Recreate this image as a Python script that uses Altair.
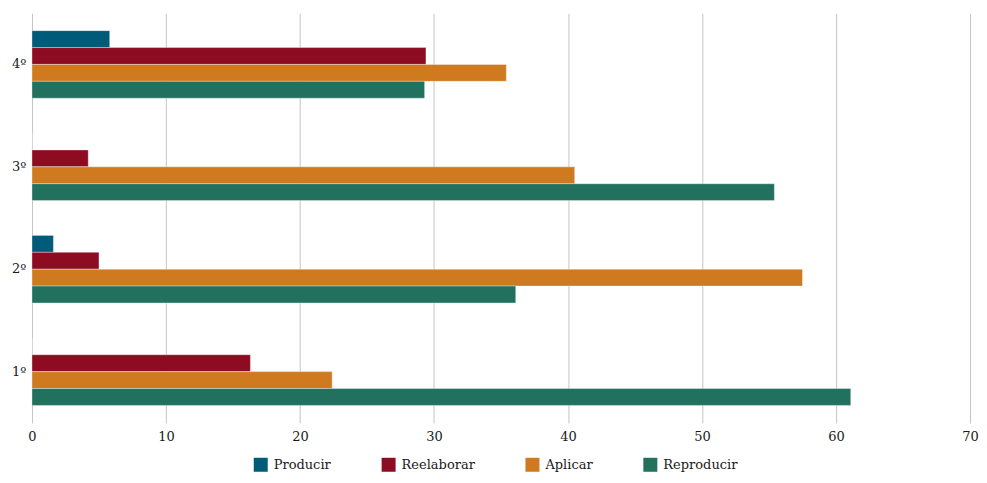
import altair as alt
import pandas as pd

grades = ["1º", "2º", "3º", "4º"]
series = ["Producir", "Reelaborar", "Aplicar", "Reproducir"]
colors = ["#005b78", "#8e0c22", "#d07a20", "#22705e"]

producir = [0, 1.6, 0, 5.8]
reelaborar = [16.3, 5.0, 4.2, 29.4]
aplicar = [22.4, 57.5, 40.5, 35.4]
reproducir = [61.1, 36.1, 55.4, 29.3]

rows = []
for name, vals in zip(series, [producir, reelaborar, aplicar, reproducir]):
    for g, v in zip(grades, vals):
        rows.append({"grade": g, "serie": name, "value": v})
df = pd.DataFrame(rows)

font = "DejaVu Serif"

chart = alt.Chart(df).mark_bar(stroke="white", strokeWidth=0.6, strokeOpacity=0.6).encode(
    x=alt.X("value:Q", scale=alt.Scale(domain=[0, 70], nice=False),
            axis=alt.Axis(values=[0, 10, 20, 30, 40, 50, 60, 70], title=None, grid=True,
                          gridColor="#c4c4c4", gridWidth=1, ticks=False, domain=False,
                          labelFlush=False, labelPadding=8, labelFont=font,
                          labelFontSize=13, labelColor="#1a1a1a")),
    y=alt.Y("grade:N", sort=["4º", "3º", "2º", "1º"],
            scale=alt.Scale(paddingInner=0.34, paddingOuter=0.17),
            axis=alt.Axis(title=None, ticks=False, domain=False, labelPadding=6,
                          labelFont=font, labelFontSize=13, labelColor="#1a1a1a")),
    yOffset=alt.YOffset("serie:N", sort=series),
    color=alt.Color("serie:N", sort=series,
                    scale=alt.Scale(domain=series, range=colors),
                    legend=alt.Legend(title=None, orient="none", direction="horizontal",
                                      legendX=222, legendY=445, padding=0,
                                      symbolType="square", symbolSize=196, symbolStrokeWidth=0,
                                      labelOffset=6, labelFont=font, labelFontSize=13,
                                      labelColor="#1a1a1a", columnPadding=50)),
).properties(
    width=939, height=410,
    padding={"left": 3, "top": 5, "right": 0, "bottom": 0},
).configure_view(stroke=None)

chart.save("out.html", embed_options={"renderer": "svg", "actions": False})
